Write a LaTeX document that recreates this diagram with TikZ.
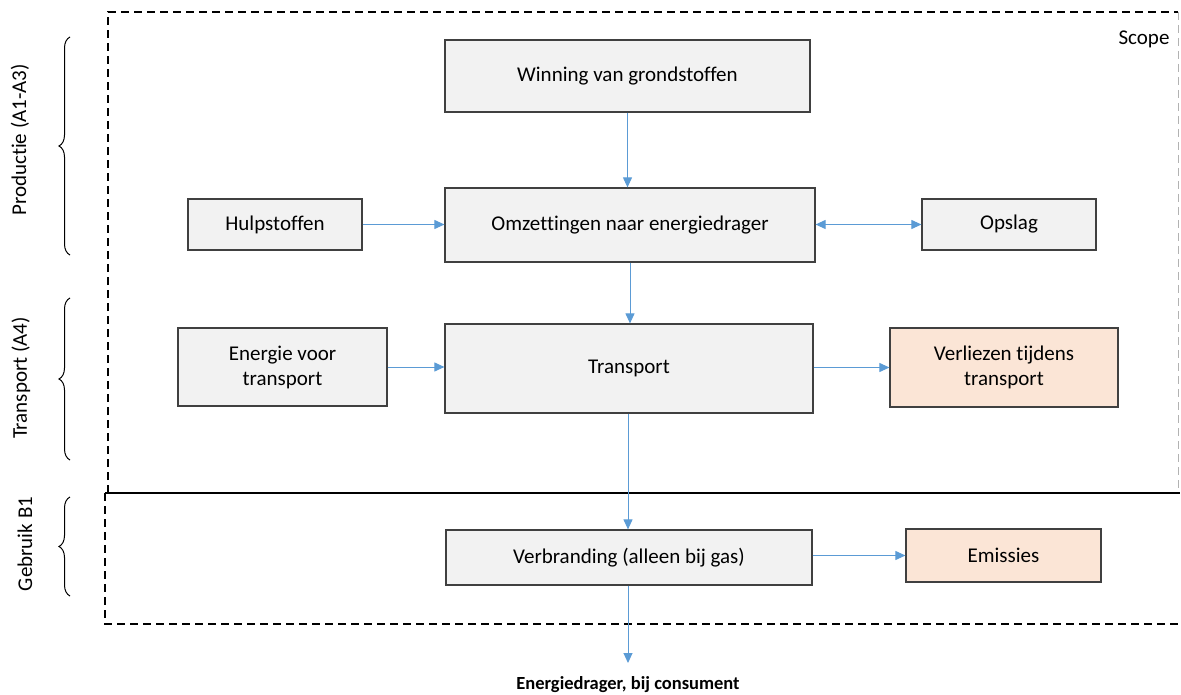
\documentclass[tikz,border=0pt]{standalone}
\usepackage{fontspec}
\setmainfont{Carlito}[Ligatures=NoCommon]
\usetikzlibrary{arrows.meta,decorations.pathreplacing}
\definecolor{flowblue}{HTML}{5B9BD5}
\definecolor{boxgray}{HTML}{F2F2F2}
\definecolor{boxedge}{HTML}{404040}
\definecolor{losspeach}{HTML}{FBE5D6}
\tikzset{
  stage/.style={draw=boxedge, line width=1.2pt, fill=boxgray, inner sep=2pt,
    align=center, font=\fontsize{21}{25}\selectfont},
  loss/.style={stage, fill=losspeach},
  flow/.style={draw=flowblue, line width=1pt, -{Triangle[length=10pt,width=9pt]}},
  flowboth/.style={draw=flowblue, line width=1pt,
    {Triangle[length=10pt,width=9pt]}-{Triangle[length=10pt,width=9pt]}},
  scopeline/.style={dashed, dash pattern=on 8pt off 5pt, line width=1.4pt},
  phasebrace/.style={decorate, decoration={brace, amplitude=11pt}, line width=1pt},
  phaselabel/.style={rotate=90, font=\fontsize{21}{25}\selectfont}
}
\begin{document}
\begin{tikzpicture}[x=1pt, y=-1pt]
\useasboundingbox (0,0) rectangle (1181,695);

% scope frames
\draw[scopeline] (108,493) -- (108,12) -- (1178,12);
\draw[scopeline, draw=gray!60, line width=0.8pt] (1178,12) -- (1178,493);
\draw[line width=1.4pt] (105,493) -- (1180,493);
\draw[scopeline] (105,493) -- (105,624) -- (1180,624);
\node[anchor=east, font=\fontsize{21}{25}\selectfont] (scopelbl) at (1173,39) {Scope};

% process steps
\node[stage, minimum width=365pt, minimum height=72pt] (win) at (627.5,76) {Winning van grondstoffen};
\node[stage, minimum width=174pt, minimum height=51pt] (hulp) at (275,224.5) {Hulpstoffen};
\node[stage, minimum width=370pt, minimum height=74pt] (omz) at (630,225) {Omzettingen naar energiedrager};
\node[stage, minimum width=174pt, minimum height=51pt] (opslag) at (1009,224.5) {Opslag};
\node[stage, minimum width=209pt, minimum height=78pt] (evt) at (282.5,367) {Energie voor\\transport};
\node[stage, minimum width=368pt, minimum height=89pt] (trans) at (629,368.5) {Transport};
\node[loss, minimum width=228pt, minimum height=79pt] (verl) at (1004,367.5) {Verliezen tijdens\\transport};
\node[stage, minimum width=366pt, minimum height=55pt] (verbr) at (629,557.5) {Verbranding (alleen bij gas)};
\node[loss, minimum width=195pt, minimum height=53pt] (emis) at (1003.5,555.5) {Emissies};

\coordinate (consumer) at (628,663);
\node[font=\fontsize{18.5}{22}\selectfont\bfseries] (conslbl) at (628,685) {Energiedrager, bij consument};

% flows
\draw[flow] (win.south) -- (omz.north -| win.south);
\draw[flow] (hulp.east) -- (omz.west |- hulp.east);
\draw[flowboth] (omz.east |- opslag.west) -- (opslag.west);
\draw[flow] (omz.south) -- (trans.north -| omz.south);
\draw[flow] (evt.east) -- (trans.west |- evt.east);
\draw[flow] (trans.east |- verl.west) -- (verl.west);
\draw[flow] (trans.south -| consumer) -- (verbr.north -| consumer);
\draw[flow] (verbr.east |- emis.west) -- (emis.west);
\draw[flow] (verbr.south -| consumer) -- (consumer);

% life-cycle phases
\draw[phasebrace] (70,255) -- (70,37);
\draw[phasebrace] (70,460) -- (70,298);
\draw[phasebrace] (70,596) -- (70,497);
\node[phaselabel] (prod) at (20,140) {Productie (A1-A3)};
\node[phaselabel] (transA4) at (21,378) {Transport (A4)};
\node[phaselabel] (gebruik) at (25,544) {Gebruik B1};
\end{tikzpicture}
\end{document}
